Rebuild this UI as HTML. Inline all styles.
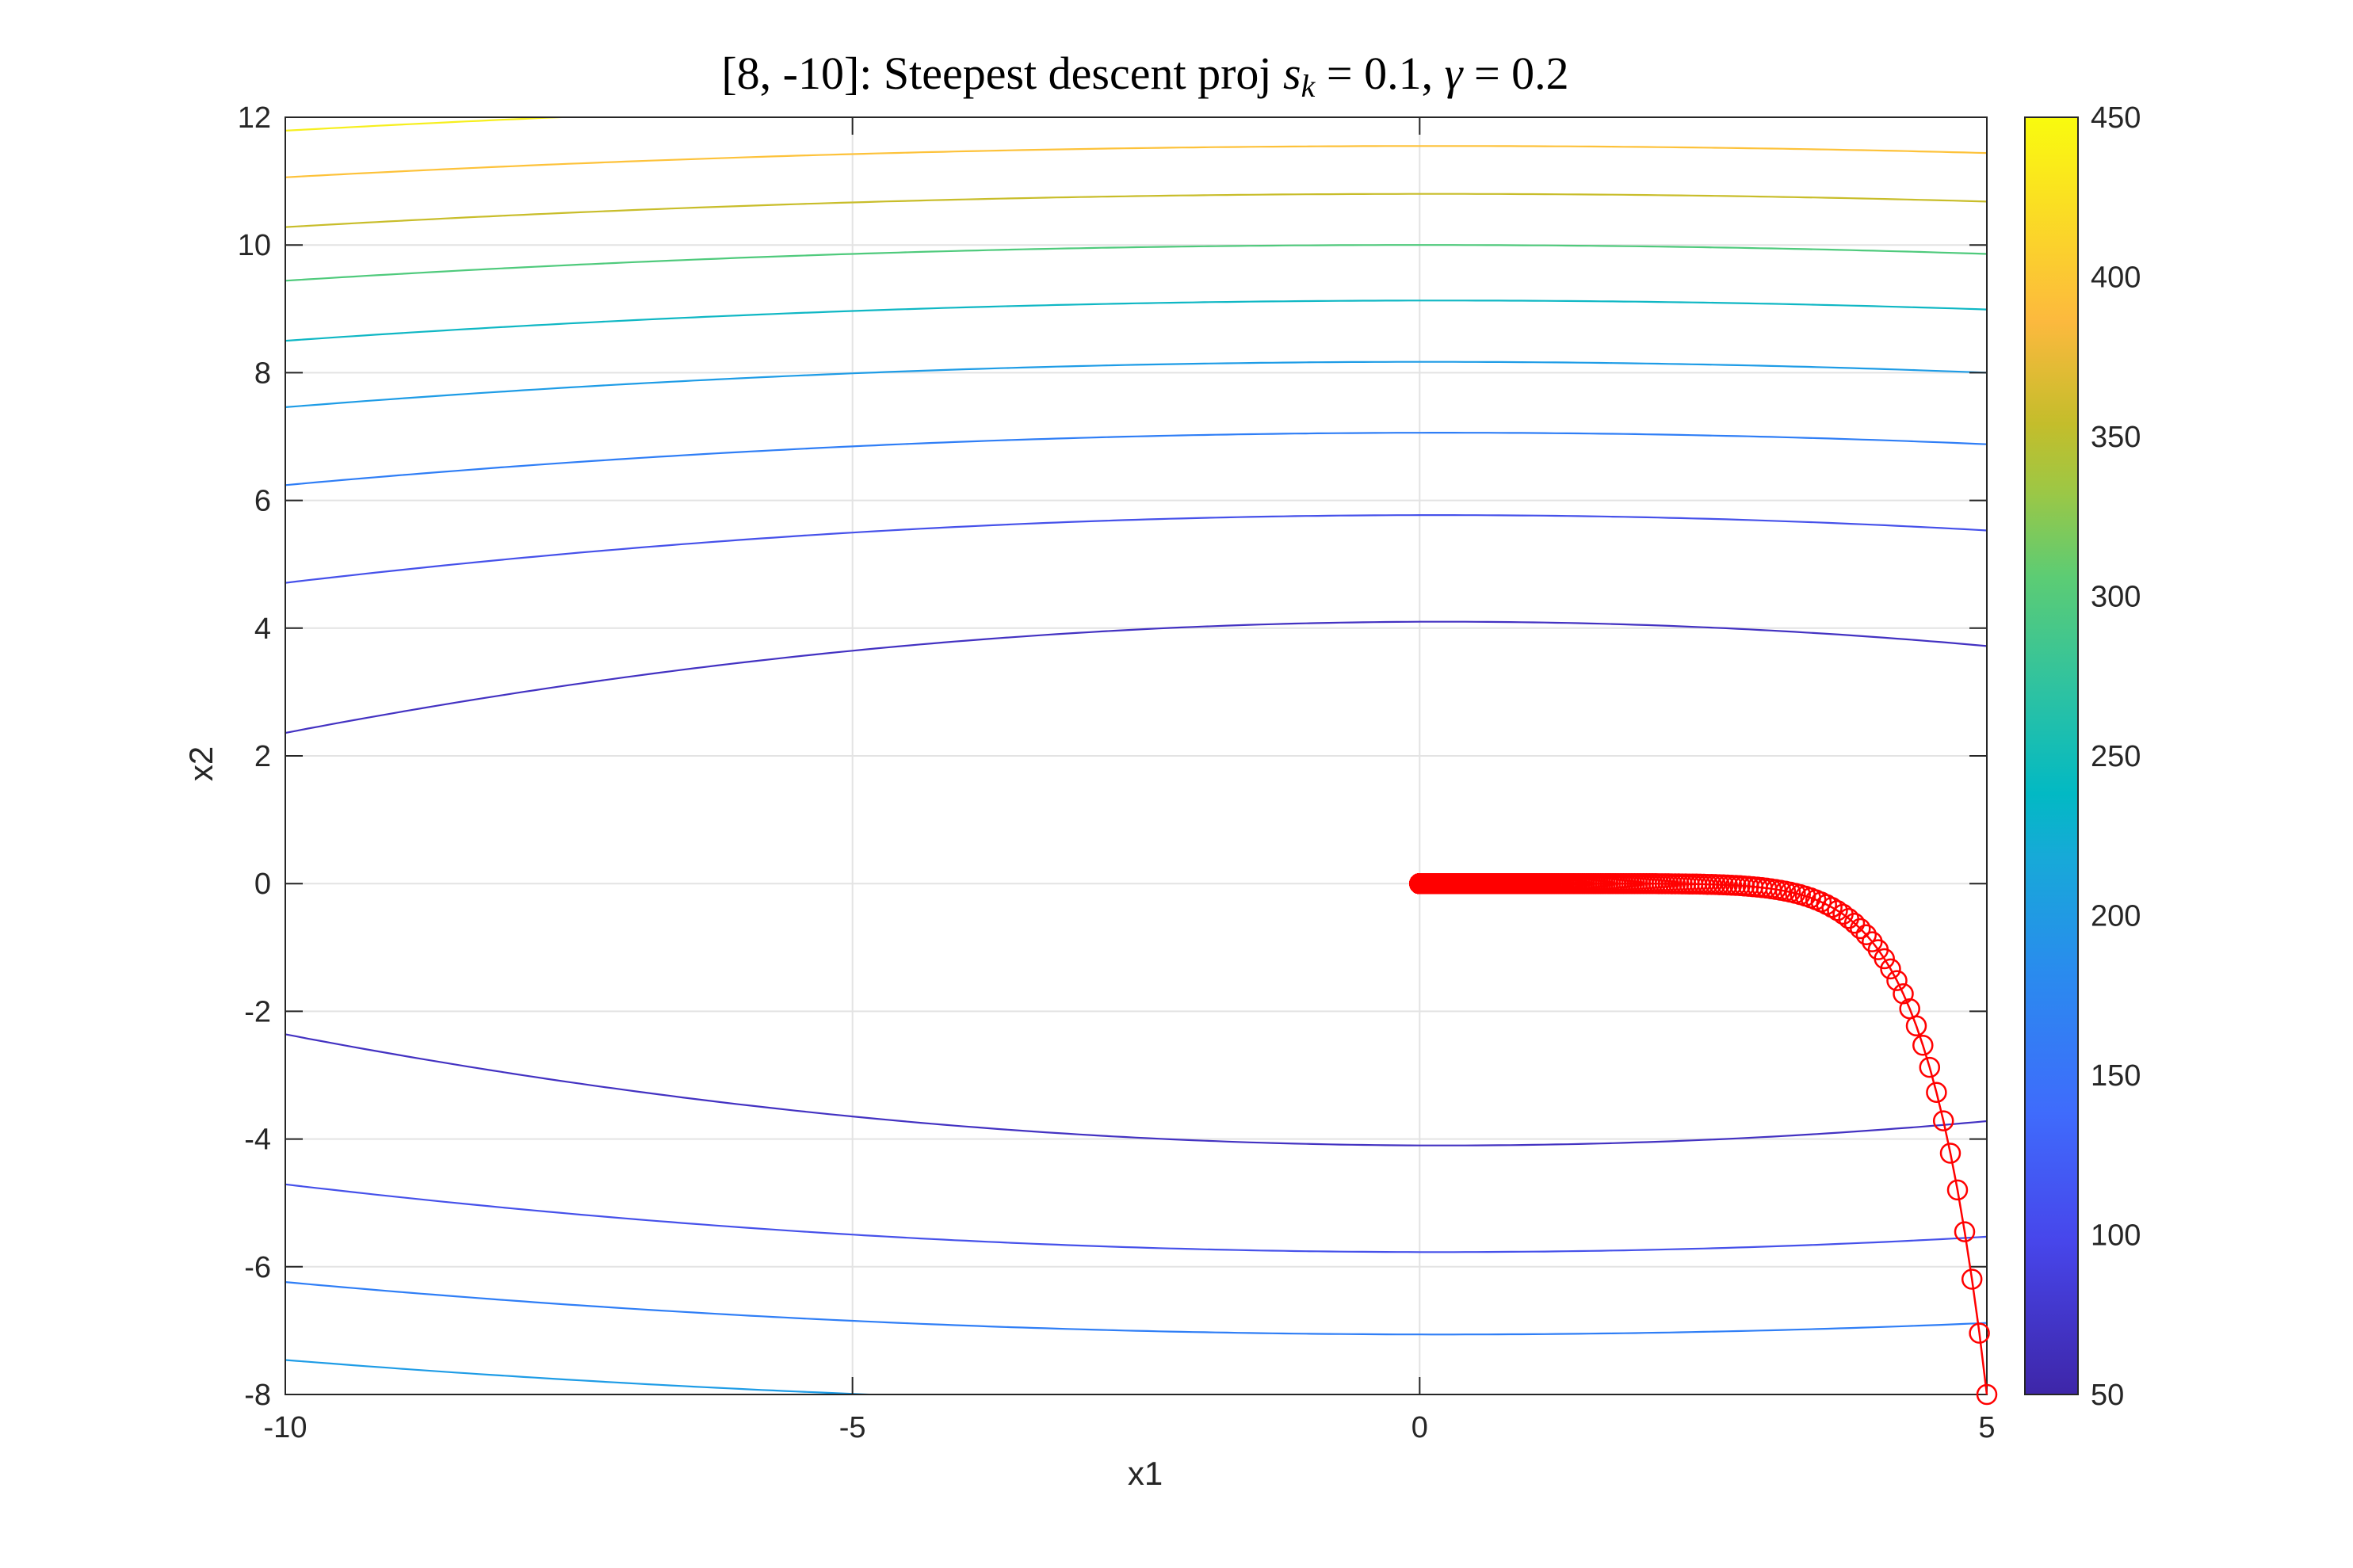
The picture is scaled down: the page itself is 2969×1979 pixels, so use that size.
<!DOCTYPE html>
<html><head><meta charset="utf-8"><style>
html,body{margin:0;padding:0;background:#fff;}
svg{display:block;}
</style></head><body>
<svg id="s" xmlns="http://www.w3.org/2000/svg" width="2969" height="1979" viewBox="0 0 2969 1979">
<rect width="2969" height="1979" fill="#fff"/>
<defs>
<clipPath id="cp"><rect x="360" y="148" width="2147" height="1612"/></clipPath>
<linearGradient id="par" x1="0" y1="1" x2="0" y2="0">
<stop offset="0" stop-color="#3e26a8"/>
<stop offset="0.12" stop-color="#4746eb"/>
<stop offset="0.22" stop-color="#3f6bfc"/>
<stop offset="0.33" stop-color="#2a8bee"/>
<stop offset="0.42" stop-color="#17a9d8"/>
<stop offset="0.47" stop-color="#02b9c4"/>
<stop offset="0.55" stop-color="#2dc2a2"/>
<stop offset="0.64" stop-color="#5ccc74"/>
<stop offset="0.71" stop-color="#9fc743"/>
<stop offset="0.76" stop-color="#c4bd2b"/>
<stop offset="0.84" stop-color="#fcb93e"/>
<stop offset="1" stop-color="#f9fb0e"/>
</linearGradient>
</defs>
<g id="grid" stroke="#e3e3e3" stroke-width="2"></g>
<g id="cont" clip-path="url(#cp)" fill="none" stroke-width="2.2"></g>
<rect x="360" y="148" width="2147" height="1612" fill="none" stroke="#262626" stroke-width="2"/>
<g id="ticks" stroke="#262626" stroke-width="2"></g>
<g id="traj"></g>
<g id="labels" font-family="Liberation Sans, DejaVu Sans, sans-serif" font-size="38" fill="#262626"></g>
<rect x="2555" y="148" width="67" height="1612" fill="url(#par)" stroke="#262626" stroke-width="2"/>
<text x="1445" y="112" text-anchor="middle" font-family="Liberation Serif, serif" font-size="58" fill="#000">[8, -10]: Steepest descent proj <tspan font-style="italic">s</tspan><tspan font-style="italic" font-size="40" dy="10">k</tspan><tspan dy="-10"> = 0.1, </tspan><tspan font-style="italic">γ</tspan> = 0.2</text>
<text x="1445" y="1874" text-anchor="middle" font-family="Liberation Sans, DejaVu Sans, sans-serif" font-size="42" fill="#262626">x1</text>
<text transform="translate(268,964) rotate(-90)" text-anchor="middle" font-family="Liberation Sans, DejaVu Sans, sans-serif" font-size="42" fill="#262626">x2</text>
</svg>
<script>
var NS="http://www.w3.org/2000/svg";
function X(v){return 360+(v+10)*2147/15;}
function Y(v){return 148+(12-v)*1612/20;}
function el(p,t,a,txt){var e=document.createElementNS(NS,t);for(var k in a)e.setAttribute(k,a[k]);if(txt!==undefined)e.textContent=txt;document.getElementById(p).appendChild(e);return e;}
[-10,-5,0,5].forEach(function(v){var x=X(v);
 el("grid","line",{x1:x,y1:148,x2:x,y2:1760});
 el("ticks","line",{x1:x,y1:1760,x2:x,y2:1738});el("ticks","line",{x1:x,y1:148,x2:x,y2:170});
 el("labels","text",{x:x,y:1814,"text-anchor":"middle"},String(v));});
for(var v=-8;v<=12;v+=2){var y=Y(v);
 el("grid","line",{x1:360,y1:y,x2:2507,y2:y});
 el("ticks","line",{x1:360,y1:y,x2:382,y2:y});el("ticks","line",{x1:2507,y1:y,x2:2485,y2:y});
 el("labels","text",{x:342,y:y+13,"text-anchor":"end"},String(v));}
for(var c=50;c<=450;c+=50){var y=1760-(c-50)/400*1612;
 if(c>50&&c<450)el("ticks","line",{x1:2606,y1:y,x2:2622,y2:y});
 el("labels","text",{x:2638,y:y+13},String(c));}
var C=[[11.79,12.3,12.2,"#f6ef1e"],[11.06,11.55,11.44,"#fdc23a"],[10.28,10.80,10.68,"#c8bd2a"],[9.44,10.0,9.86,"#4fca7c"],
[8.50,9.13,8.99,"#0fb7c4"],[7.46,8.17,8.0,"#1e9ce6"],[6.24,7.06,6.88,"#2f7ef6"],[4.71,5.77,5.53,"#4651ea"],[2.36,4.10,3.72,"#4332c2"]];
C.forEach(function(c,i){
 var L=c[0],M=c[1],R=c[2];
 var a=(2*(R-M)+(L-M))/150; var b=(R-M-25*a)/5;
 [1,-1].forEach(function(s){
  if(s==-1&&i<5)return;
  var d="";for(var k=0;k<=150;k++){var x=-10+k*0.1;var y=s*(a*x*x+b*x+M);d+=(k?"L":"M")+X(x).toFixed(1)+" "+Y(y).toFixed(1);}
  el("cont","path",{d:d,stroke:c[3]});
 });
});
var pts=[],x1=5,x2=-8;
for(var k=0;k<700;k++){pts.push([x1,x2]);x1*=0.9868;x2*=0.88;}
var d="";pts.forEach(function(p,i){d+=(i?"L":"M")+X(p[0]).toFixed(1)+" "+Y(p[1]).toFixed(1);});
el("traj","path",{d:d,fill:"none",stroke:"#ff0000","stroke-width":2.5});
pts.forEach(function(p){el("traj","circle",{cx:X(p[0]).toFixed(1),cy:Y(p[1]).toFixed(1),r:12,fill:"none",stroke:"#ff0000","stroke-width":2.5});});
</script>
</body></html>
